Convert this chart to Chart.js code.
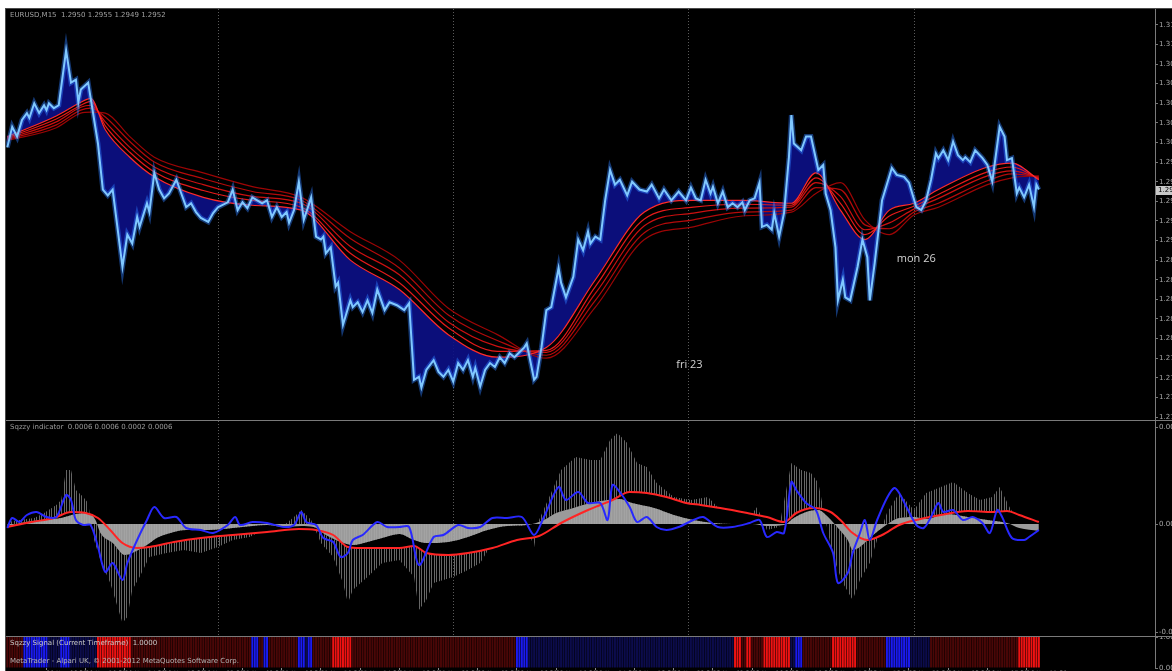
<!DOCTYPE html>
<html>
<head>
<meta charset="utf-8">
<title>EURUSD,M15</title>
<script src="https://cdn.jsdelivr.net/npm/chart.js@4.4.1/dist/chart.umd.min.js"></script>
<style>
  html, body { margin: 0; padding: 0; background: #fff; }
  body { width: 1172px; height: 671px; position: relative; overflow: hidden; }
  .pane { position: absolute; left: 5px; top: 8px; width: 1167px; height: 663px; background: #000;
          border-left: 1px solid #4a4a4a; border-top: 1px solid #4a4a4a; box-sizing: border-box; }
  canvas { position: absolute; left: 6px; }
  .ln { position: absolute; background: #7a7a7a; }
</style>
</head>
<body>
<div class="pane"></div>
<canvas id="priceChart" width="1166" height="411" style="top:9px"></canvas>
<canvas id="squeezeChart" width="1166" height="215" style="top:421px"></canvas>
<canvas id="signalChart" width="1166" height="34" style="top:637px"></canvas>
<div class="ln" style="left:6px;top:420px;width:1166px;height:1px"></div>
<div class="ln" style="left:6px;top:636px;width:1166px;height:1px"></div>
<div class="ln" style="left:1155px;top:9px;width:1px;height:659px"></div>

<script>
// Bars are M15 candles counted from Tue 20 Nov 02:30
const daySeparators = [86, 182, 278, 370];

// Price (close)
const priceBars = [0, 2, 4, 6, 8, 9, 11, 13, 15, 16, 17, 19, 21, 24, 26, 28, 29, 30, 33, 37,
  39, 41, 43, 47, 49, 51, 53, 54, 57, 58, 60, 62, 64, 66, 69, 71, 73, 75, 77, 79,
  82, 84, 86, 90, 92, 94, 96, 98, 100, 102, 104, 106, 108, 110, 112, 114, 115, 117, 119, 121,
  124, 126, 128, 129, 130, 132, 134, 135, 137, 140, 141, 143, 145, 147, 149, 151, 154, 156, 159, 162,
  164, 166, 168, 169, 171, 174, 176, 178, 180, 182, 184, 186, 188, 190, 191, 193, 195, 197, 199, 201,
  203, 205, 207, 209, 211, 212, 215, 216, 218, 220, 222, 225, 226, 228, 231, 233, 235, 237, 238, 240,
  242, 244, 246, 248, 250, 253, 255, 258, 261, 263, 266, 268, 271, 274, 277, 279, 281, 283, 285, 287,
  288, 290, 292, 294, 296, 298, 300, 301, 303, 305, 307, 308, 310, 312, 313, 315, 317, 319, 320, 321,
  324, 325, 326, 328, 331, 333, 334, 336, 338, 339, 341, 342, 344, 347, 349, 351, 352, 354, 357, 361,
  363, 366, 368, 371, 373, 375, 377, 379, 380, 382, 384, 386, 388, 390, 391, 393, 395, 398, 400, 402,
  405, 407, 408, 410, 412, 413, 415, 417, 419, 420, 421];
const priceValues = [1.2995, 1.3016, 1.3006, 1.3023, 1.3030, 1.3025, 1.3040, 1.3030, 1.3038, 1.3033, 1.3040, 1.3035, 1.3038, 1.3094, 1.3061, 1.3064, 1.3041, 1.3054, 1.3061, 1.2999,
  1.2952, 1.2946, 1.2952, 1.2873, 1.2906, 1.2897, 1.2924, 1.2914, 1.2938, 1.2929, 1.2969, 1.2952, 1.2943, 1.2948, 1.2962, 1.2948, 1.2934, 1.2938, 1.2929, 1.2923,
  1.2919, 1.2928, 1.2934, 1.2939, 1.2952, 1.2931, 1.2939, 1.2933, 1.2944, 1.2941, 1.2938, 1.2941, 1.2924, 1.2934, 1.2924, 1.2929, 1.2918, 1.2931, 1.2960, 1.2921,
  1.2944, 1.2904, 1.2901, 1.2904, 1.2887, 1.2893, 1.2853, 1.2857, 1.2814, 1.2839, 1.2832, 1.2837, 1.2827, 1.2839, 1.2826, 1.2850, 1.2829, 1.2837, 1.2834, 1.2829,
  1.2836, 1.2758, 1.2761, 1.2750, 1.2768, 1.2778, 1.2766, 1.2761, 1.2768, 1.2756, 1.2775, 1.2768, 1.2778, 1.2761, 1.2770, 1.2751, 1.2768, 1.2775, 1.2771, 1.2781,
  1.2775, 1.2785, 1.2781, 1.2786, 1.2791, 1.2795, 1.2758, 1.2761, 1.2791, 1.2829, 1.2832, 1.2872, 1.2857, 1.2842, 1.2863, 1.2901, 1.2890, 1.2909, 1.2897, 1.2904,
  1.2901, 1.2941, 1.2972, 1.2957, 1.2962, 1.2946, 1.2960, 1.2952, 1.2950, 1.2957, 1.2943, 1.2952, 1.2941, 1.2950, 1.2941, 1.2954, 1.2943, 1.2941, 1.2962, 1.2948,
  1.2955, 1.2938, 1.2950, 1.2934, 1.2938, 1.2934, 1.2939, 1.2931, 1.2941, 1.2943, 1.2959, 1.2914, 1.2916, 1.2911, 1.2928, 1.2904, 1.2928, 1.2985, 1.3028, 1.2999,
  1.2992, 1.2999, 1.3006, 1.3006, 1.2972, 1.2977, 1.2948, 1.2931, 1.2893, 1.2839, 1.2860, 1.2842, 1.2839, 1.2873, 1.2901, 1.2883, 1.2839, 1.2877, 1.2941, 1.2974,
  1.2967, 1.2965, 1.2959, 1.2934, 1.2931, 1.2941, 1.2962, 1.2989, 1.2984, 1.2992, 1.2982, 1.3001, 1.2987, 1.2982, 1.2985, 1.2980, 1.2992, 1.2984, 1.2977, 1.2960,
  1.3016, 1.3006, 1.2982, 1.2984, 1.2948, 1.2954, 1.2944, 1.2957, 1.2934, 1.2957, 1.2952];

// Red moving average ribbon, fastest first
const maBars = [0, 20, 30, 34, 40, 50, 60, 80, 100, 120, 140, 160, 180, 200, 220, 240, 260, 280, 300, 320, 330, 340, 350, 360, 370, 380, 400, 410, 421];
const ma1 = [1.3006, 1.3027, 1.3041, 1.3045, 1.3013, 1.2985, 1.2965, 1.2944, 1.2936, 1.2931, 1.2880, 1.2850, 1.2804, 1.2781, 1.2791, 1.2860, 1.2929, 1.2941, 1.2941, 1.2938, 1.2969, 1.2931, 1.2901, 1.2931, 1.2938, 1.2952, 1.2975, 1.2979, 1.2962];
const ma2 = [1.3005, 1.3024, 1.3038, 1.3042, 1.3017, 1.2990, 1.2970, 1.2951, 1.2941, 1.2934, 1.2887, 1.2857, 1.2811, 1.2787, 1.2788, 1.2853, 1.2922, 1.2934, 1.2937, 1.2936, 1.2964, 1.2938, 1.2906, 1.2925, 1.2935, 1.2947, 1.2970, 1.2975, 1.2963];
const ma3 = [1.3004, 1.3021, 1.3036, 1.3038, 1.3021, 1.2995, 1.2975, 1.2957, 1.2945, 1.2938, 1.2894, 1.2865, 1.2817, 1.2792, 1.2786, 1.2846, 1.2915, 1.2928, 1.2933, 1.2934, 1.2959, 1.2945, 1.2911, 1.2918, 1.2932, 1.2943, 1.2966, 1.2971, 1.2964];
const ma4 = [1.3003, 1.3018, 1.3033, 1.3035, 1.3026, 1.3001, 1.2980, 1.2963, 1.2950, 1.2941, 1.2902, 1.2872, 1.2824, 1.2798, 1.2783, 1.2839, 1.2908, 1.2921, 1.2929, 1.2931, 1.2954, 1.2952, 1.2916, 1.2912, 1.2929, 1.2938, 1.2961, 1.2968, 1.2965];
const ma5 = [1.3002, 1.3015, 1.3030, 1.3031, 1.3030, 1.3006, 1.2985, 1.2969, 1.2955, 1.2944, 1.2909, 1.2880, 1.2831, 1.2804, 1.2780, 1.2832, 1.2901, 1.2914, 1.2925, 1.2929, 1.2948, 1.2959, 1.2921, 1.2906, 1.2926, 1.2934, 1.2957, 1.2964, 1.2966];

const priceTicks = [1.2720, 1.2740, 1.2760, 1.2780, 1.2800, 1.2820, 1.2840, 1.2860, 1.2880, 1.2900, 1.2920,
  1.2940, 1.2960, 1.2980, 1.3000, 1.3020, 1.3040, 1.3060, 1.3080, 1.3100, 1.3120];

const noteText = ['fri 23', 'mon 26'];
const noteBar = [273, 363];
const notePrice = [1.2773, 1.2881];

// Sqzzy indicator, values in pips
const histBars = [0, 5, 11, 15, 20, 22, 24, 26, 28, 31, 33, 35, 38, 42, 45, 47, 49, 51, 54, 58,
  65, 72, 79, 86, 92, 99, 106, 113, 117, 120, 124, 128, 133, 137, 139, 141, 147, 153, 160, 166,
  168, 171, 174, 178, 182, 188, 193, 197, 201, 206, 212, 215, 217, 223, 226, 232, 238, 242, 246, 249,
  253, 257, 261, 265, 272, 279, 286, 291, 296, 302, 306, 310, 315, 320, 324, 328, 331, 335, 337, 341,
  345, 348, 352, 355, 359, 364, 370, 375, 381, 386, 392, 397, 402, 405, 409, 413, 419, 421];
const histValues = [0.2, 0.4, 0.6, 1.1, 1.9, 2.4, 5.4, 5.4, 3.4, 2.7, 2.1, -1.3, -3.6, -5.9, -8.3, -9.9, -9.3, -6.6, -5.3, -3.3,
  -2.9, -2.6, -2.9, -2.3, -1.6, -1.3, -0.4, -0.1, 0.7, 1.4, 0.4, -1.9, -3.3, -5.9, -7.9, -6.6, -5.3, -3.9, -3.6, -5.3,
  -8.6, -7.6, -5.9, -5.6, -5.3, -4.6, -3.9, -2.3, -1.1, -0.6, -0.3, -2.3, 0.4, 3.7, 5.4, 6.7, 6.4, 6.4, 8.4, 9.1,
  8.1, 6.1, 5.7, 4.1, 2.7, 2.4, 2.7, 1.4, 0.4, 0.4, 1.7, -0.6, -0.3, 6.1, 5.4, 5.1, 4.1, -0.9, -3.3, -5.9,
  -7.6, -5.6, -3.9, -1.6, 1.1, 3.1, 1.4, 3.1, 3.7, 4.2, 3.1, 2.4, 2.7, 3.7, 1.7, 0.1, -0.6, -0.4];

const smoothBars = [0, 10, 22, 28, 33, 36, 38, 43, 48, 51, 57, 61, 68, 73, 82, 92, 100, 106, 113, 120,
  125, 130, 136, 141, 147, 153, 160, 166, 171, 180, 188, 196, 204, 212, 219, 224, 231, 238, 245, 250,
  255, 264, 272, 280, 288, 296, 304, 310, 317, 321, 326, 331, 335, 339, 343, 345, 348, 352, 357, 364,
  370, 375, 383, 392, 400, 408, 413, 421];
const smoothValues = [-0.2, 0.3, 0.6, 1.0, 1.1, 0.4, -0.9, -1.9, -3.1, -2.9, -2.1, -1.4, -0.8, -0.6, -0.6, -0.4, -0.2, -0.1, -0.3, -0.2,
  -0.3, -1.1, -1.8, -2.1, -1.8, -1.4, -1.0, -1.6, -1.9, -1.8, -1.3, -0.6, -0.2, -0.1, 0.4, 1.1, 1.6, 2.1, 2.4, 2.5,
  2.1, 1.6, 0.9, 0.4, 0.1, 0.0, 0.0, -0.2, -0.1, 0.6, 1.2, 1.4, 0.7, -0.4, -1.6, -2.6, -2.3, -1.4, -0.4, 0.6,
  0.7, 0.5, 1.0, 0.7, 0.4, 0.1, -0.4, -0.7];

const blueBars = [0, 2, 5, 8, 12, 16, 20, 24, 26, 28, 31, 34, 37, 40, 43, 47, 49, 53, 57, 60,
  64, 69, 73, 79, 84, 90, 93, 95, 100, 106, 113, 117, 120, 122, 126, 129, 133, 136, 139, 141,
  145, 151, 155, 160, 164, 168, 174, 178, 184, 188, 193, 198, 204, 210, 215, 219, 225, 228, 233, 237,
  242, 245, 247, 250, 254, 257, 261, 265, 269, 274, 280, 284, 290, 296, 303, 307, 310, 314, 317, 320,
  322, 326, 330, 333, 337, 339, 343, 345, 348, 350, 352, 355, 359, 362, 364, 367, 371, 374, 377, 380,
  382, 386, 390, 394, 398, 401, 404, 406, 410, 415, 417, 421];
const blueValues = [-0.4, 0.6, 0.2, 0.9, 1.2, 0.7, 0.7, 2.9, 2.4, 0.4, -0.1, -0.1, -2.3, -4.8, -3.9, -5.6, -3.9, -1.6, 0.4, 1.7,
  0.6, 0.7, -0.4, -0.6, -0.9, -0.1, 0.7, -0.1, 0.2, 0.1, -0.3, -0.1, 1.2, 0.2, -0.1, -1.4, -1.8, -3.3, -2.9, -1.6,
  -1.1, 0.2, -0.3, -0.3, -0.3, -4.1, -1.3, -1.1, -0.1, -0.4, -0.3, 0.6, 0.6, 0.7, -1.1, 0.7, 3.7, 2.4, 3.2, 2.1,
  2.1, 0.4, 3.9, 3.2, 1.7, 0.2, 0.7, -0.3, -0.6, -0.3, 0.4, 0.7, -0.3, -0.3, 0.1, 0.4, -1.3, -0.8, -0.9, 4.2,
  3.4, 2.1, 1.4, -0.9, -2.9, -5.9, -4.9, -2.9, -0.9, 0.4, -1.6, 0.4, 2.6, 3.6, 3.1, 1.7, -0.1, -0.4, 0.7, 2.1,
  1.2, 1.4, 0.4, 0.7, 0.1, -0.9, 1.4, 0.7, -1.4, -1.6, -1.3, -0.6];

const redBars = [0, 10, 19, 26, 32, 37, 42, 47, 53, 58, 68, 79, 92, 106, 119, 126, 133, 139, 144, 160,
  166, 171, 180, 188, 198, 208, 217, 226, 237, 242, 247, 254, 261, 269, 277, 283, 291, 302, 310, 317,
  322, 329, 336, 340, 345, 351, 357, 364, 371, 381, 392, 402, 408, 413, 421];
const redValues = [-0.3, 0.2, 0.6, 1.2, 1.1, 0.6, -0.6, -1.9, -2.4, -2.3, -1.8, -1.4, -1.1, -0.8, -0.5, -0.6, -1.1, -2.3, -2.4, -2.4,
  -2.2, -2.9, -3.1, -2.9, -2.4, -1.6, -1.2, 0.1, 1.4, 1.9, 2.4, 3.2, 3.1, 2.7, 2.1, 1.9, 1.6, 1.1, 0.7, 0.2,
  1.1, 1.6, 1.2, 0.4, -0.9, -1.6, -1.1, -0.1, 0.4, 0.9, 1.3, 1.2, 1.3, 0.9, 0.2];

const squeezeTicks = [-10.8, 0, 9.7];

// Sqzzy Signal: state changes (r = red, dr = dark red, b = blue, n = navy)
const lastBar = 421;
const signalBreaks = [0, 7, 17, 22, 26, 37, 51, 100, 103, 105, 107, 119, 122, 123, 125, 133, 141, 208, 213, 297,
  300, 302, 304, 309, 320, 322, 325, 337, 347, 359, 369, 377, 413];
const signalStates = ['dr', 'b', 'n', 'b', 'n', 'r', 'dr', 'b', 'dr', 'b', 'dr', 'b', 'n', 'b', 'dr', 'r', 'dr', 'b', 'n', 'r',
  'dr', 'r', 'dr', 'r', 'n', 'b', 'dr', 'r', 'dr', 'b', 'n', 'dr', 'r'];
const signalTicks = [0, 1];

const timeBars = [16, 32, 48, 64, 80, 96, 112, 128, 144, 160, 176, 192, 208, 224, 240, 256, 272, 288, 304, 320, 336, 352, 368, 384, 400, 416];
const timeLabels = ['20 Nov 06:30', '20 Nov 10:30', '20 Nov 14:30', '20 Nov 18:30', '20 Nov 22:30', '21 Nov 02:30',
  '21 Nov 06:30', '21 Nov 10:30', '21 Nov 14:30', '21 Nov 18:30', '21 Nov 22:30', '22 Nov 02:30', '22 Nov 06:30',
  '22 Nov 10:30', '22 Nov 14:30', '22 Nov 18:30', '22 Nov 22:30', '23 Nov 02:30', '23 Nov 06:30', '23 Nov 10:30',
  '23 Nov 14:30', '23 Nov 18:30', '23 Nov 22:30', '26 Nov 03:30', '26 Nov 07:30', '26 Nov 11:30'];

// ---------------------------------------------------------------------------

Chart.defaults.font.family = '"DejaVu Sans", sans-serif';
Chart.defaults.animation = false;

const pts = (xs, ys) => xs.map((x, i) => ({ x: x, y: ys[i] }));

// bar axis shared by all panes
const barMin = -0.53, barMax = 468.4;
function barAxis(show) {
  return { type: 'linear', min: barMin, max: barMax, display: show, offset: false, grid: { offset: false } };
}

// MetaTrader style price scale on the right
function rightAxis(min, max, tickValues, fmt) {
  return {
    type: 'linear', position: 'right', min: min, max: max,
    grid: { drawOnChartArea: false, drawTicks: true, tickLength: 3, color: '#777' },
    border: { display: false },
    ticks: { color: '#a8a8a8', font: { size: 7 }, padding: 1, autoSkip: false, callback: fmt },
    afterBuildTicks: s => { s.ticks = tickValues.map(v => ({ value: v })); },
    afterFit: s => { s.width = 17; s.paddingTop = 0; s.paddingBottom = 0; }
  };
}

const baseOptions = {
  responsive: false,
  maintainAspectRatio: false,
  events: [],
  layout: { padding: 0 },
  elements: { point: { radius: 0 } },
  plugins: { legend: { display: false }, tooltip: { enabled: false }, filler: { drawTime: 'beforeDatasetsDraw' } }
};

// dotted day separators
const separators = {
  id: 'separators',
  beforeDraw(chart) {
    const { ctx, chartArea, scales } = chart;
    ctx.save();
    ctx.strokeStyle = '#5a5a5a';
    ctx.lineWidth = 1;
    ctx.setLineDash([1, 2]);
    daySeparators.forEach(b => {
      const x = Math.round(scales.x.getPixelForValue(b)) + 0.5;
      ctx.beginPath();
      ctx.moveTo(x, chartArea.top);
      ctx.lineTo(x, chartArea.bottom);
      ctx.stroke();
    });
    ctx.restore();
  }
};

// Price pane
const priceText = {
  id: 'priceText',
  afterDraw(chart) {
    const { ctx, scales, chartArea } = chart;
    ctx.save();
    ctx.fillStyle = '#a0a0a0';
    ctx.font = '7px "DejaVu Sans"';
    ctx.textBaseline = 'top';
    ctx.fillText('EURUSD,M15  1.2950 1.2955 1.2949 1.2952', 4, 3);

    ctx.fillStyle = '#d2d2d2';
    ctx.font = '11px "Open Sans"';
    ctx.textBaseline = 'middle';
    noteText.forEach((t, i) => {
      ctx.fillText(t, scales.x.getPixelForValue(noteBar[i]), scales.y.getPixelForValue(notePrice[i]));
    });

    // current price marker on the scale
    const last = priceValues[priceValues.length - 1];
    const y = Math.round(scales.y.getPixelForValue(last));
    ctx.fillStyle = '#c8c8c8';
    ctx.fillRect(chartArea.right + 1, y - 4, 20, 9);
    ctx.fillStyle = '#000';
    ctx.font = '7px "DejaVu Sans"';
    ctx.fillText(last.toFixed(4), chartArea.right + 3, y + 0.5);
    ctx.restore();
  }
};

const maColors = ['#ff2a2a', '#e41a1a', '#cc1010', '#b40a0a', '#9c0505'];
const maDataset = (vals, i) => ({
  data: pts(maBars, vals), borderColor: maColors[i], borderWidth: 1.2,
  cubicInterpolationMode: 'monotone', fill: false
});

new Chart(document.getElementById('priceChart'), {
  type: 'line',
  data: {
    datasets: [
      { data: pts(priceBars, priceValues), borderColor: '#80c8ff', borderWidth: 2, tension: 0,
        fill: { target: 2 }, backgroundColor: 'rgba(12,16,135,0.9)' },
      { data: pts(priceBars, priceValues), borderColor: 'rgba(45,125,255,0.45)', borderWidth: 5, tension: 0, fill: false },
      maDataset(ma1, 0), maDataset(ma2, 1), maDataset(ma3, 2), maDataset(ma4, 3), maDataset(ma5, 4)
    ]
  },
  options: Object.assign({}, baseOptions, {
    scales: {
      x: barAxis(false),
      y: rightAxis(1.271694, 1.313616, priceTicks, v => v.toFixed(4))
    }
  }),
  plugins: [separators, priceText]
});

// Sqzzy indicator pane
function hatch(color) {
  const p = document.createElement('canvas');
  p.width = 5; p.height = 4;
  const g = p.getContext('2d');
  g.fillStyle = color;
  g.fillRect(0, 0, 1, 4);
  g.fillRect(3, 0, 1, 4);
  return g.createPattern(p, 'repeat');
}

const squeezeText = {
  id: 'squeezeText',
  afterDraw(chart) {
    const ctx = chart.ctx;
    ctx.save();
    ctx.fillStyle = '#9a9a9a';
    ctx.font = '7px "DejaVu Sans"';
    ctx.textBaseline = 'top';
    ctx.fillText('Sqzzy indicator  0.0006 0.0006 0.0002 0.0006', 4, 3);
    ctx.restore();
  }
};

new Chart(document.getElementById('squeezeChart'), {
  type: 'line',
  data: {
    datasets: [
      { data: pts(blueBars, blueValues), borderColor: '#2828ff', borderWidth: 2, tension: 0.3, fill: false },
      { data: pts(redBars, redValues), borderColor: '#ff2424', borderWidth: 2, cubicInterpolationMode: 'monotone', fill: false },
      { data: pts(smoothBars, smoothValues), borderColor: 'rgba(0,0,0,0)', borderWidth: 1, cubicInterpolationMode: 'monotone',
        fill: 'origin', backgroundColor: 'rgba(168,168,168,0.92)' },
      { data: pts(smoothBars, smoothValues), borderColor: 'rgba(0,0,0,0)', borderWidth: 1, cubicInterpolationMode: 'monotone',
        fill: { target: 1 }, backgroundColor: '#000' },
      { data: pts(histBars, histValues), borderColor: 'rgba(0,0,0,0)', borderWidth: 1, tension: 0,
        fill: 'origin', backgroundColor: hatch('#666') }
    ]
  },
  options: Object.assign({}, baseOptions, {
    scales: {
      x: barAxis(false),
      y: rightAxis(-11.2, 10.3, squeezeTicks, v => (v / 10000).toFixed(4))
    }
  }),
  plugins: [separators, squeezeText]
});

// Sqzzy Signal strip
const stateColors = { r: '#ee1212', dr: '#4a0707', b: '#1a1af0', n: '#0c0c4c' };
const signalData = [];
const signalColors = [];
signalBreaks.forEach((start, i) => {
  const end = i + 1 < signalBreaks.length ? signalBreaks[i + 1] : lastBar + 1;
  for (let b = start; b < end; b++) {
    signalData.push({ x: b, y: 1 });
    signalColors.push(stateColors[signalStates[i]]);
  }
});

const signalText = {
  id: 'signalText',
  afterDatasetsDraw(chart) {
    const ctx = chart.ctx;
    ctx.save();
    ctx.font = '7px "DejaVu Sans"';
    ctx.textBaseline = 'top';
    ctx.fillStyle = '#c8c8c8';
    ctx.fillText('Sqzzy Signal (Current Timeframe)  1.0000', 4, 3);
    ctx.fillStyle = '#b4b4b4';
    ctx.fillText('MetaTrader - Alpari UK, \u00a9 2001-2012 MetaQuotes Software Corp.', 4, 21);
    ctx.restore();
  }
};

const timeAxis = barAxis(true);
Object.assign(timeAxis, {
  position: 'bottom',
  grid: { drawOnChartArea: false, tickLength: 2, color: '#888', offset: false },
  border: { display: false },
  ticks: { color: '#a0a0a0', font: { size: 6 }, padding: 0, autoSkip: false, maxRotation: 0, align: 'start',
           callback: v => timeLabels[timeBars.indexOf(v)] },
  afterBuildTicks: s => { s.ticks = timeBars.map(v => ({ value: v })); },
  afterFit: s => { s.height = 3; s.paddingLeft = 0; s.paddingRight = 0; }
});

new Chart(document.getElementById('signalChart'), {
  type: 'bar',
  data: {
    datasets: [{ data: signalData, backgroundColor: signalColors, borderWidth: 0,
                 barPercentage: 0.8, categoryPercentage: 1 }]
  },
  options: Object.assign({}, baseOptions, {
    scales: {
      x: timeAxis,
      y: rightAxis(0, 1, signalTicks, v => v.toFixed(4))
    }
  }),
  plugins: [signalText]
});
</script>
</body>
</html>
